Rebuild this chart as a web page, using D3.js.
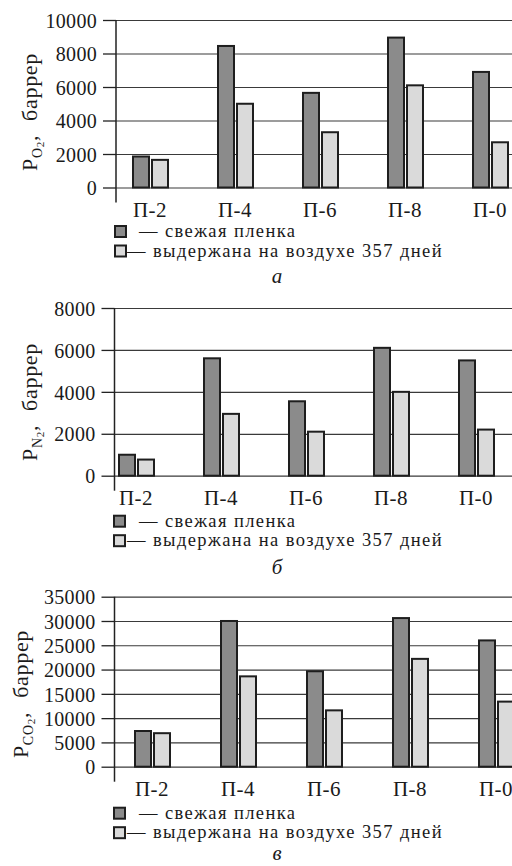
<!DOCTYPE html>
<html>
<head>
<meta charset="utf-8">
<script src="https://cdn.jsdelivr.net/npm/d3@7"></script>
<style>
  html, body { margin: 0; padding: 0; background: #fff; }
  svg { display: block; }
  svg text { font-family: 'Liberation Serif', 'DejaVu Serif', serif; }
</style>
</head>
<body>
<script>
// Permeability of films, fresh vs aged 357 days in air

const categories = ['П-2', 'П-4', 'П-6', 'П-8', 'П-0'];
const seriesKeys = ['fresh', 'aged'];
const legendLabels = ['— свежая пленка', '— выдержана на воздухе 357 дней'];

const o2Fresh = [1850, 8450, 5650, 8950, 6900];
const o2Aged = [1650, 5000, 3300, 6100, 2700];
const o2Ticks = [0, 2000, 4000, 6000, 8000, 10000];

const n2Fresh = [1000, 5600, 3550, 6100, 5500];
const n2Aged = [770, 2950, 2100, 4000, 2200];
const n2Ticks = [0, 2000, 4000, 6000, 8000];

const co2Fresh = [7350, 30000, 19650, 30600, 26000];
const co2Aged = [6900, 18600, 11600, 22200, 13400];
const co2Ticks = [0, 5000, 10000, 15000, 20000, 25000, 30000, 35000];

const W = 512, H = 866;
const fills = { fresh: '#8b8b8b', aged: '#dadada' };

const svg = d3.select('body').append('svg')
  .attr('width', W)
  .attr('height', H);

svg.append('rect').attr('width', W).attr('height', H).attr('fill', '#fff');

function drawPanel(p) {
  const g = svg.append('g');

  const y = d3.scaleLinear()
    .domain([0, p.ticks[p.ticks.length - 1]])
    .range([p.y0, p.yTop]);

  const x = d3.scaleBand()
    .domain(categories)
    .range([p.c0 - p.step / 2, p.c0 + p.step * 4.5])
    .padding(0);

  const xs = d3.scaleBand()
    .domain(seriesKeys)
    .range([-17, 18])
    .paddingInner(0.158);

  // gridlines
  const grid = g.append('g')
    .attr('transform', `translate(${p.axisX},0)`)
    .call(d3.axisRight(y).tickValues(p.ticks).tickSize(W - p.axisX).tickFormat(''));
  grid.select('.domain').remove();
  grid.selectAll('line').attr('stroke', '#3a3a3a').attr('stroke-width', 1.2);

  // left ticks + labels
  const ax = g.append('g')
    .attr('transform', `translate(${p.axisX},0)`)
    .call(d3.axisLeft(y).tickValues(p.ticks).tickSize(13).tickPadding(6).tickFormat(d3.format('d')));
  ax.select('.domain').remove();
  ax.selectAll('line').attr('stroke', '#222').attr('stroke-width', 1.3);
  ax.selectAll('text')
    .attr('font-size', 20)
    .attr('letter-spacing', 0.3)
    .attr('fill', '#1a1a1a')
    .attr('dy', '0.36em');

  // vertical axis line
  g.append('line')
    .attr('x1', p.axisX).attr('x2', p.axisX)
    .attr('y1', y.range()[1]).attr('y2', p.y0 + 15)
    .attr('stroke', '#222').attr('stroke-width', 1.5);

  // bars
  const rows = categories.map((c, i) => ({ cat: c, fresh: p.fresh[i], aged: p.aged[i] }));
  g.append('g').selectAll('g')
    .data(rows)
    .join('g')
    .attr('transform', d => `translate(${x(d.cat) + x.bandwidth() / 2},0)`)
    .selectAll('rect')
    .data(d => seriesKeys.map(k => ({ key: k, value: d[k] })))
    .join('rect')
    .attr('x', d => xs(d.key))
    .attr('width', xs.bandwidth())
    .attr('y', d => y(d.value))
    .attr('height', d => y(0) - y(d.value))
    .attr('fill', d => fills[d.key])
    .attr('stroke', '#1e1e1e')
    .attr('stroke-width', 2);

  // category labels
  g.append('g').selectAll('text')
    .data(categories)
    .join('text')
    .attr('x', d => x(d) + x.bandwidth() / 2)
    .attr('y', p.y0 + 29)
    .attr('text-anchor', 'middle')
    .attr('font-size', 21)
    .attr('letter-spacing', 0.5)
    .attr('fill', '#1a1a1a')
    .text(d => d);

  // y label (rotated)
  const yl = g.append('text')
    .attr('transform', `translate(${p.labelX},${p.labelY}) rotate(-90)`)
    .attr('text-anchor', 'middle')
    .attr('font-size', 22)
    .attr('letter-spacing', 0.7)
    .attr('fill', '#1a1a1a');
  yl.append('tspan').text('P');
  yl.append('tspan').attr('font-size', 14).attr('dy', 5).text(p.gas);
  yl.append('tspan').attr('font-size', 11).attr('dy', 2).text('2');
  yl.append('tspan').attr('dy', -7).text(',');
  yl.append('tspan').attr('dx', 14).text('баррер');

  // legend
  const leg = g.append('g');
  seriesKeys.forEach((k, i) => {
    leg.append('rect')
      .attr('x', p.legX)
      .attr('y', p.y0 + p.legTop + i * 19.5)
      .attr('width', 11)
      .attr('height', 11)
      .attr('fill', fills[k])
      .attr('stroke', '#1e1e1e')
      .attr('stroke-width', 2);
    leg.append('text')
      .attr('x', i === 0 ? 139 : 127)
      .attr('y', p.y0 + p.legTop + 11 + i * 19.5)
      .attr('font-size', 18.5)
      .attr('letter-spacing', 1.4)
      .attr('fill', '#1a1a1a')
      .text(legendLabels[i]);
  });

  // caption letter
  g.append('text')
    .attr('x', 277)
    .attr('y', p.y0 + p.capDy)
    .attr('text-anchor', 'middle')
    .attr('font-size', 21)
    .attr('font-style', 'italic')
    .attr('fill', '#1a1a1a')
    .text(p.caption);
}

drawPanel({
  fresh: o2Fresh, aged: o2Aged, ticks: o2Ticks, gas: 'O',
  axisX: 116, y0: 187.5, yTop: 20, c0: 150, step: 85,
  labelX: 37, labelY: 112, legX: 115, legTop: 38.5, capDy: 95, caption: 'а'
});

drawPanel({
  fresh: n2Fresh, aged: n2Aged, ticks: n2Ticks, gas: 'N',
  axisX: 114.5, y0: 475.7, yTop: 308, c0: 136, step: 85,
  labelX: 37, labelY: 402, legX: 114, legTop: 40, capDy: 98, caption: 'б'
});

drawPanel({
  fresh: co2Fresh, aged: co2Aged, ticks: co2Ticks, gas: 'CO',
  axisX: 114.5, y0: 766.7, yTop: 596.7, c0: 152, step: 86,
  labelX: 28, labelY: 694, legX: 114, legTop: 41, capDy: 93, caption: 'в'
});
</script>
</body>
</html>
